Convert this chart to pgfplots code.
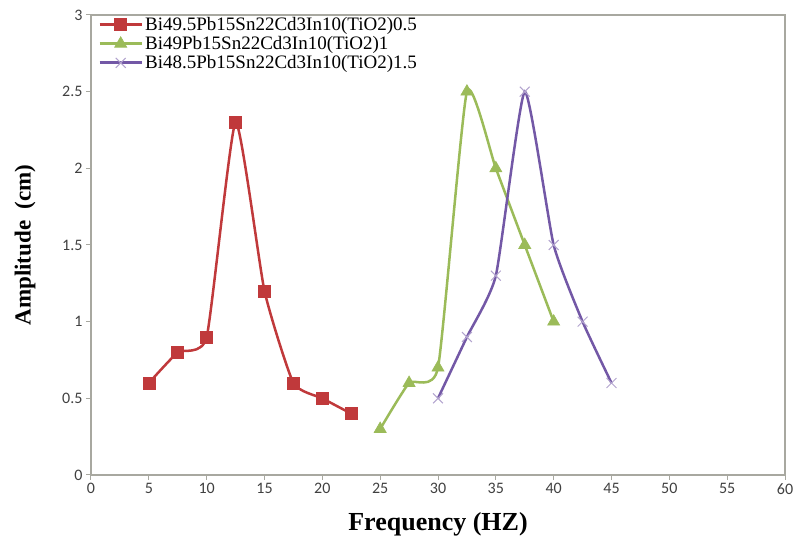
\documentclass[border=0pt]{standalone}
\usepackage{pgfplots}
\pgfplotsset{compat=1.18}
\usepackage{fontspec}
\setmainfont{Liberation Serif}
\newfontfamily\tickfont{Carlito}
\definecolor{cred}{HTML}{C0393B}
\definecolor{cgreen}{HTML}{9BBB59}
\definecolor{cpurple}{HTML}{7358A6}
\definecolor{axgray}{HTML}{A8A8A0}
\begin{document}
\begin{tikzpicture}
\begin{axis}[
  scale only axis,
  width=694pt, height=460pt,
  xmin=0, xmax=60, ymin=0, ymax=3,
  xtick={0,5,...,60},
  ytick={0,0.5,...,3},
  axis line style={axgray, line width=1.2pt},
  tick style={axgray, line width=1pt},
  x tick label style={font=\tickfont\fontsize{16}{16}\selectfont, text=black!75},
  y tick label style={font=\tickfont\fontsize{16}{16}\selectfont, text=black!75},
  /pgf/number format/assume math mode=true,
  tick align=outside,
  major tick length=5pt,
  xtick pos=bottom, ytick pos=left,
  xlabel={\textbf{Frequency (HZ)}},
  ylabel={\textbf{Amplitude\ \ (cm)}},
  xlabel style={font=\fontsize{26}{26}\selectfont, at={(rel axis cs:0.5,0)}, anchor=center, yshift=-49pt},
  ylabel style={font=\fontsize{23}{23}\selectfont, at={(rel axis cs:0,0.5)}, anchor=center, yshift=66pt},
  legend style={at={(0,1)}, anchor=north west, xshift=6pt, yshift=1pt, draw=none, fill=none, font=\fontsize{19}{19}\selectfont, row sep=0.5pt, inner sep=1pt, cells={anchor=west}},
  legend cell align=left,
  legend image code/.code={\draw[mark repeat=2, mark phase=2, line width=3pt] plot coordinates {(0pt,0pt) (21pt,0pt) (42pt,0pt)};},
]
\addplot[cred, line width=2.5pt, smooth, tension=0.3, mark=square*, mark size=6pt, mark options={line width=0.6pt}] coordinates {
(5,0.6) (7.5,0.8) (10,0.9) (12.5,2.3) (15,1.2) (17.5,0.6) (20,0.5) (22.5,0.4)};
\addlegendentry{Bi49.5Pb15Sn22Cd3In10(TiO2)0.5}
\addplot[cgreen, line width=2.5pt, smooth, tension=0.3, mark=triangle*, mark size=7pt, mark options={line width=0.6pt}] coordinates {
(25,0.3) (27.5,0.6) (30,0.7) (32.5,2.5) (35,2.0) (37.5,1.5) (40,1.0)};
\addlegendentry{Bi49Pb15Sn22Cd3In10(TiO2)1}
\addplot[cpurple, line width=2.5pt, smooth, tension=0.3, mark=x, mark size=7pt, mark options={line width=1pt, cpurple!55}] coordinates {
(30,0.5) (32.5,0.9) (35,1.3) (37.5,2.5) (40,1.5) (42.5,1.0) (45,0.6)};
\addlegendentry{Bi48.5Pb15Sn22Cd3In10(TiO2)1.5}
\path (rel axis cs:0,0) ++(-91pt,-60pt) coordinate (bl);
\path (rel axis cs:1,1) ++(12pt,15pt) coordinate (tr);
\end{axis}
\path (bl) rectangle (tr);
\end{tikzpicture}
\end{document}
